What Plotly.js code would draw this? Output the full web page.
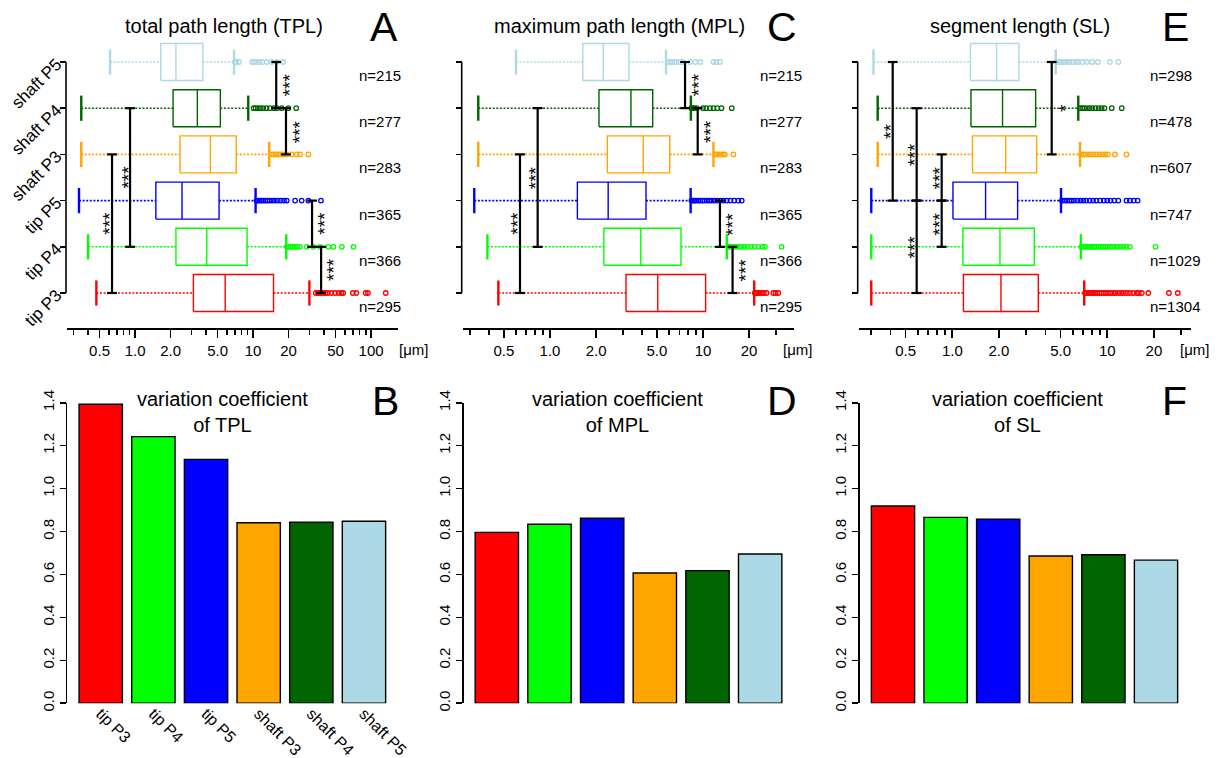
<!DOCTYPE html>
<html><head><meta charset="utf-8">
<script src="https://cdn.plot.ly/plotly-3.0.1.min.js"></script>
<style>body{margin:0;background:#fff}</style>
</head><body><div id="chart" style="width:1224px;height:758px"></div>
<script>
// ---------------- data ----------------
const groups = ['tip P3','tip P4','tip P5','shaft P3','shaft P4','shaft P5'];
const colors = ['#FF0000','#00FF00','#0000FF','#FFA500','#006400','#ADD8E6'];

const nTPL = [295,366,365,283,277,215];
const nMPL = [295,366,365,283,277,215];
const nSL  = [1304,1029,747,607,478,298];

// total path length (TPL) box statistics [µm]
const tplLo  = [0.47, 0.40, 0.335, 0.35, 0.35, 0.614];
const tplQ1  = [3.12, 2.22, 1.50, 2.40, 2.10, 1.65];
const tplMed = [5.8, 4.05, 2.5, 4.35, 3.37, 2.22];
const tplQ3  = [14.9, 8.9, 5.15, 7.2, 5.28, 3.75];
const tplHi  = [30, 19.1, 10.5, 13.7, 9.1, 6.9];
const tplOut = [
  [34, 35.5, 37, 39, 41, 43, 46, 49.5, 53, 56, 58, 70, 75, 90, 94, 133],
  [19.3, 20.0, 20.8, 21.7, 22.6, 23.7, 25.0, 28.5, 32.4, 36.9, 43.4, 48.0, 56.5, 71.0],
  [10.7, 11.0, 11.4, 11.8, 12.2, 12.7, 13.2, 13.8, 14.5, 15.3, 16.2, 17.2, 18.3, 19.3, 22.7, 25.8, 29.4, 37.6],
  [14.4, 15.0, 15.6, 16.3, 17.1, 18.0, 19.2, 21.2, 23.5, 25.0, 29.4],
  [10.1, 10.5, 11.0, 11.6, 12.2, 13.0, 13.9, 15.0, 15.9, 17.5, 19.9, 23.2],
  [7.0, 7.2, 7.6, 9.8, 10.2, 10.7, 11.3, 12.0, 13.0, 14.4, 15.9, 18.0]
];

// maximum path length (MPL)
const mplLo  = [0.46, 0.39, 0.32, 0.34, 0.34, 0.60];
const mplQ1  = [3.14, 2.25, 1.51, 2.37, 2.09, 1.64];
const mplMed = [5.06, 3.92, 2.40, 4.07, 3.38, 2.23];
const mplQ3  = [10.4, 7.18, 4.24, 6.06, 4.69, 3.28];
const mplHi  = [21.6, 14.3, 8.3, 11.7, 8.33, 5.73];
const mplOut = [
  [21.8, 22.3, 22.9, 23.5, 24.2, 25.0, 26.0, 28.8, 29.8, 31.0],
  [14.6, 15.0, 15.5, 16.0, 16.6, 17.2, 17.9, 18.7, 19.6, 20.6, 21.7, 23.0, 24.4, 25.4, 32.6],
  [8.4, 8.6, 8.8, 9.0, 9.3, 9.6, 9.9, 10.2, 10.6, 11.0, 11.4, 11.9, 12.4, 13.0, 13.6, 14.3, 15.1, 16.0, 17.0, 17.9],
  [12.0, 12.3, 12.7, 13.1, 13.5, 13.9, 15.8],
  [8.4, 8.6, 8.8, 9.1, 10.0, 10.5, 11.1, 11.7, 12.4, 13.2, 15.4],
  [5.9, 6.1, 6.3, 6.5, 6.7, 7.1, 7.4, 8.2, 8.9, 9.6, 11.7, 12.2, 12.9]
];

// segment length (SL)
const slLo  = [0.30, 0.30, 0.30, 0.33, 0.33, 0.31];
const slQ1  = [1.18, 1.17, 1.01, 1.35, 1.32, 1.31];
const slMed = [2.06, 2.03, 1.64, 2.21, 2.11, 1.93];
const slQ3  = [3.59, 3.38, 2.64, 3.50, 3.45, 2.69];
const slHi  = [7.1, 6.76, 5.03, 6.67, 6.5, 4.65];
const slOut = [
  [7.2, 7.4, 7.6, 7.8, 8.0, 8.2, 8.4, 8.6, 8.9, 9.2, 9.5, 9.8, 10.1, 10.5, 10.9, 11.3, 11.8, 12.3, 12.8, 13.4, 14.0, 14.7, 15.5, 16.0, 16.7, 18.4, 25.0, 28.5],
  [6.8, 7.0, 7.2, 7.4, 7.6, 7.8, 8.0, 8.2, 8.5, 8.8, 9.1, 9.4, 9.7, 10.0, 10.4, 10.8, 11.2, 11.7, 12.2, 12.7, 13.3, 14.0, 20.5],
  [5.1, 5.3, 5.5, 5.7, 5.9, 6.1, 6.4, 6.7, 7.0, 7.3, 7.7, 8.1, 8.5, 9.0, 9.5, 10.0, 10.5, 11.1, 11.8, 13.3, 14.0, 14.8, 15.7],
  [6.8, 7.0, 7.2, 7.5, 7.8, 8.1, 8.5, 8.9, 9.3, 9.7, 10.1, 11.2, 13.3],
  [6.7, 6.9, 7.1, 7.4, 7.7, 8.0, 8.4, 8.8, 9.2, 9.6, 10.7, 12.4],
  [4.7, 4.9, 5.1, 5.3, 5.5, 5.7, 6.0, 6.3, 6.5, 6.9, 7.4, 8.0, 8.7, 10.4, 11.8]
];

// significance brackets: x position [µm], from group row, to group row, label, side
const sigTPLx    = [15.7, 19.0, 31.6, 37.7, 0.907, 0.638];
const sigTPLfrom = [6, 5, 3, 2, 5, 4];
const sigTPLto   = [5, 4, 2, 1, 2, 1];
const sigTPLlab  = ['***','***','***','***','***','***'];
const sigTPLside = [1, 1, 1, 1, -1, -1];

const sigMPLx    = [7.63, 9.23, 12.9, 15.6, 0.831, 0.637];
const sigMPLfrom = [6, 5, 3, 2, 5, 4];
const sigMPLto   = [5, 4, 2, 1, 2, 1];
const sigMPLlab  = ['***','***','***','***','***','***'];
const sigMPLside = [1, 1, 1, 1, -1, -1];

const sigSLx    = [0.4125, 0.589, 0.589, 0.854, 0.854, 4.38];
const sigSLfrom = [6, 5, 3, 4, 3, 6];
const sigSLto   = [3, 3, 1, 3, 2, 4];
const sigSLlab  = ['**','***','***','***','***','*'];
const sigSLside = [-1, -1, -1, -1, -1, 1];

// variation coefficients
const cvTPL = [1.393, 1.242, 1.136, 0.841, 0.844, 0.848];
const cvMPL = [0.796, 0.834, 0.862, 0.607, 0.618, 0.695];
const cvSL  = [0.919, 0.866, 0.858, 0.686, 0.692, 0.667];

// tick labels
const boxTicksA = [0.5, 1, 2, 5, 10, 20, 50, 100];
const boxTickTextA = ['0.5','1.0','2.0','5.0','10','20','50','100'];
const boxTicksCE = [0.5, 1, 2, 5, 10, 20];
const boxTickTextCE = ['0.5','1.0','2.0','5.0','10','20'];
const minorA = [0.3,0.4,0.6,0.7,0.8,0.9,3,4,6,7,8,9,30,40,60,70,80,90];
const minorCE = [0.3,0.4,0.6,0.7,0.8,0.9,3,4,6,7,8,9,30];
const cvTicks = [0, 0.2, 0.4, 0.6, 0.8, 1.0, 1.2, 1.4];

// ---------------- layout helpers ----------------
const W = 1224, H = 758;
const FAM = 'Liberation Sans, Arial, Helvetica, sans-serif';
const px = p => p / W;
const py = p => 1 - p / H;
const rows = [1,2,3,4,5,6];
const BH = 0.4;

const traces = [];
const annotations = [];
const shapes = [];
const layout = {
  width: W, height: H, margin: {l:0, r:0, t:0, b:0},
  paper_bgcolor: '#fff', plot_bgcolor: 'rgba(0,0,0,0)',
  showlegend: false, font: {family: FAM, color: '#000'},
  annotations, shapes
};

function label(xp, yp, text, size) {
  annotations.push({xref: 'paper', yref: 'paper', x: px(xp), y: py(yp), xanchor: 'center',
    yanchor: 'middle', text, showarrow: false, font: {size, family: FAM, color: '#000'}});
}

function boxPanel(k, st, outs, sig, ns, cfg) {
  const xa = 'x' + (k === 1 ? '' : k), ya = 'y' + (k === 1 ? '' : k);
  const [lo, q1, med, q3, hi] = st;
  rows.forEach((r, i) => {
    const c = colors[i];
    traces.push({x: [q1[i], q3[i], q3[i], q1[i], q1[i], null, med[i], med[i]],
      y: [r-BH, r-BH, r+BH, r+BH, r-BH, null, r-BH, r+BH],
      xaxis: xa, yaxis: ya, mode: 'lines', line: {color: c, width: 1.4}, hoverinfo: 'skip'});
    traces.push({x: [lo[i], q1[i], null, q3[i], hi[i]], y: [r, r, null, r, r],
      xaxis: xa, yaxis: ya, mode: 'lines', line: {color: c, width: 1.6, dash: '2px,1.6px'}, hoverinfo: 'skip'});
    traces.push({x: [lo[i], hi[i]], y: [r, r], xaxis: xa, yaxis: ya, mode: 'markers',
      marker: {symbol: 'line-ns', size: 18, line: {color: c, width: 2.4}}, hoverinfo: 'skip'});
    traces.push({x: outs[i], y: outs[i].map(() => r), xaxis: xa, yaxis: ya, mode: 'markers',
      marker: {symbol: 'circle-open', size: 4.5, color: c, line: {color: c, width: 1.3}}, hoverinfo: 'skip'});
  });
  // brackets
  const [sx, sf, stt, sl, ss] = sig;
  const bx = [], by = [], cx = [], cy = [];
  sx.forEach((v, j) => {
    bx.push(v, v, null); by.push(sf[j], stt[j], null);
    cx.push(v, v); cy.push(sf[j], stt[j]);
    annotations.push({xref: xa, yref: ya, x: Math.log10(v), y: (sf[j] + stt[j]) / 2,
      xanchor: 'center', yanchor: 'middle',
      text: sl[j], showarrow: false, textangle: -90, xshift: ss[j] > 0 ? 13 : -2,
      font: {size: 19, family: FAM, color: '#000'}});
  });
  traces.push({x: bx, y: by, xaxis: xa, yaxis: ya, mode: 'lines', line: {color: '#000', width: 2.2}, hoverinfo: 'skip'});
  traces.push({x: cx, y: cy, xaxis: xa, yaxis: ya, mode: 'markers',
    marker: {symbol: 'line-ew', size: 7, line: {color: '#000', width: 2.2}}, hoverinfo: 'skip'});
  // n labels
  rows.forEach((r, i) => annotations.push({xref: 'paper', yref: ya, x: px(cfg.nx), y: r - 0.29,
    xanchor: 'left', yanchor: 'middle', text: 'n=' + ns[i], showarrow: false, font: {size: 15, family: FAM}}));
  // axes
  layout['xaxis' + (k === 1 ? '' : k)] = {type: 'log', domain: [px(cfg.x0), px(cfg.x1)],
    range: [Math.log10(cfg.r0), Math.log10(cfg.r1)], anchor: 'free', position: py(328),
    showline: true, linewidth: 1.6, linecolor: '#000', ticks: 'outside', ticklen: 8, tickwidth: 1.6,
    tickcolor: '#000', tickmode: 'array', tickvals: cfg.tv, ticktext: cfg.tt,
    tickfont: {size: 15, family: FAM}, showgrid: false, zeroline: false, fixedrange: true,
    minor: {tickmode: 'array', tickvals: cfg.minor, ticks: 'outside', ticklen: 5, tickwidth: 1.6, tickcolor: '#000', showgrid: false}};
  layout['yaxis' + (k === 1 ? '' : k)] = {domain: [py(293 + 0.5 * 46.2), py(62 - 0.5 * 46.2)],
    range: [0.5, 6.5], anchor: 'free', position: px(cfg.yx), showline: false,
    ticks: 'outside', ticklen: 6, tickwidth: 1.6, tickcolor: '#000', tickmode: 'array',
    tickvals: rows, ticktext: groups, showticklabels: !!cfg.ylab, tickangle: -45,
    ticklabelstandoff: 0,
    tickfont: {size: 17, family: FAM}, showgrid: false, zeroline: false, fixedrange: true};
  shapes.push({type: 'line', xref: 'paper', yref: ya, x0: px(cfg.yx), x1: px(cfg.yx), y0: 1, y1: 6,
    line: {color: '#000', width: 1.6}});
  label(cfg.tx, 25.6, cfg.title, 20);
  label(cfg.lx, 27, cfg.letter, 41);
  label(cfg.ux, 349, '[μm]', 15);
}

function barPanel(k, vals, cfg) {
  traces.push({type: 'bar', x: rows, y: vals, xaxis: 'x' + k, yaxis: 'y' + k, width: 0.823,
    marker: {color: colors, line: {color: '#000', width: 1.4}}, hoverinfo: 'skip'});
  layout['xaxis' + k] = {domain: [px(cfg.x0), px(cfg.x1)], range: [0.5, 6.5], anchor: 'y' + k,
    showline: false, ticks: '', tickmode: 'array', tickvals: rows, ticktext: groups,
    showticklabels: !!cfg.xlab, tickangle: 45, tickfont: {size: 16, family: FAM},
    ticklabelstandoff: -3,
    showgrid: false, zeroline: false, fixedrange: true};
  layout['yaxis' + k] = {domain: [py(703.3), py(402.7)], range: [0, 1.4], anchor: 'free',
    position: px(cfg.yx), showline: true, linewidth: 1.6, linecolor: '#000', ticks: 'outside',
    ticklen: 6, tickwidth: 1.6, tickcolor: '#000', tickmode: 'array', tickvals: cvTicks,
    ticktext: cvTicks.map(v => v.toFixed(1)), tickangle: -90, tickfont: {size: 15, family: FAM},
    showgrid: false, zeroline: false, fixedrange: true};
  label(cfg.tx, 412.3, 'variation coefficient<br>of ' + cfg.abbr, 20);
  label(cfg.lx, 401, cfg.letter, 41);
}

boxPanel(1, [tplLo, tplQ1, tplMed, tplQ3, tplHi], tplOut,
  [sigTPLx, sigTPLfrom, sigTPLto, sigTPLlab, sigTPLside], nTPL,
  {x0: 67, x1: 398, r0: 0.265, r1: 169, yx: 66, tv: boxTicksA, tt: boxTickTextA, minor: minorA,
   ylab: true, nx: 357, tx: 224, title: 'total path length (TPL)', lx: 384, letter: 'A', ux: 413});
boxPanel(2, [mplLo, mplQ1, mplMed, mplQ3, mplHi], mplOut,
  [sigMPLx, sigMPLfrom, sigMPLto, sigMPLlab, sigMPLside], nMPL,
  {x0: 462.7, x1: 794, r0: 0.269, r1: 39.3, yx: 461.7, tv: boxTicksCE, tt: boxTickTextCE, minor: minorCE,
   ylab: false, nx: 758, tx: 619, title: 'maximum path length (MPL)', lx: 782, letter: 'C', ux: 797});
boxPanel(3, [slLo, slQ1, slMed, slQ3, slHi], slOut,
  [sigSLx, sigSLfrom, sigSLto, sigSLlab, sigSLside], nSL,
  {x0: 859, x1: 1191, r0: 0.25, r1: 34.7, yx: 857.7, tv: boxTicksCE, tt: boxTickTextCE, minor: minorCE,
   ylab: false, nx: 1148, tx: 1020, title: 'segment length (SL)', lx: 1175, letter: 'E', ux: 1194});

barPanel(4, cvTPL, {x0: 74.4, x1: 390.3, yx: 65.7, xlab: true, tx: 222, abbr: 'TPL', lx: 385, letter: 'B'});
barPanel(5, cvMPL, {x0: 470.5, x1: 786.5, yx: 462.3, xlab: false, tx: 617, abbr: 'MPL', lx: 782, letter: 'D'});
barPanel(6, cvSL,  {x0: 866.7, x1: 1182.3, yx: 858.3, xlab: false, tx: 1017, abbr: 'SL', lx: 1174, letter: 'F'});

Plotly.newPlot('chart', traces, layout, {staticPlot: true, displayModeBar: false});
</script></body></html>
